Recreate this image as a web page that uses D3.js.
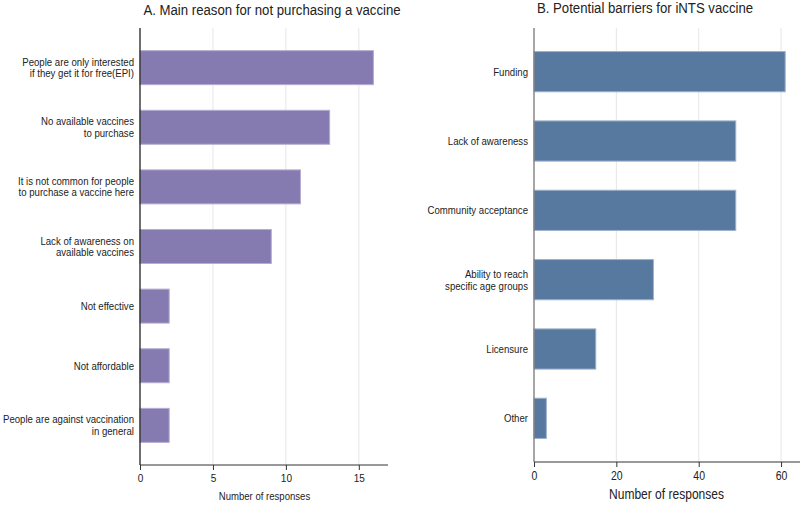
<!DOCTYPE html>
<html>
<head>
<meta charset="utf-8">
<script src="https://cdn.jsdelivr.net/npm/d3@7"></script>
<style>
  body { margin: 0; background: #fff; }
  svg { display: block; font-family: "Liberation Sans", Arial, sans-serif; }
</style>
</head>
<body>
<svg id="chart" width="800" height="505"></svg>
<script>
// Panel A data
const reasonsA = [
  ["People are only interested", "if they get it for free(EPI)"],
  ["No available vaccines", "to purchase"],
  ["It is not common for people", "to purchase a vaccine here"],
  ["Lack of awareness on", "available vaccines"],
  ["Not effective"],
  ["Not affordable"],
  ["People are against vaccination", "in general"]
];
const valuesA = [16, 13, 11, 9, 2, 2, 2];
const ticksA = [0, 5, 10, 15];

// Panel B data
const barriersB = [
  ["Funding"],
  ["Lack of awareness"],
  ["Community acceptance"],
  ["Ability to reach", "specific age groups"],
  ["Licensure"],
  ["Other"]
];
const valuesB = [61, 49, 49, 29, 15, 3];
const ticksB = [0, 20, 40, 60];

const svg = d3.select("#chart");
const SX = 0.875; // horizontal condensing to mimic a narrow typeface

function narrowText(parent, x, y, size, anchor, lines, lineH, sx) {
  const g = parent.append("g").attr("transform", `translate(${x},${y}) scale(${sx},1)`);
  const t = g.append("text").attr("text-anchor", anchor).attr("fill", "#222")
    .style("font-size", size + "px");
  lines.forEach((ln, j) => {
    t.append("tspan").attr("x", 0)
      .attr("y", (j - (lines.length - 1) / 2) * lineH)
      .attr("dy", "0.35em").text(ln);
  });
  return t;
}

function panel(cfg) {
  const g = svg.append("g");
  const x = d3.scaleLinear().domain(cfg.xDomain).range([cfg.x0, cfg.x1]);
  const idx = cfg.labels.map((d, i) => i);
  const y = d3.scaleBand().domain(idx).range([cfg.y0, cfg.y1])
    .paddingInner(cfg.pi).paddingOuter(cfg.po);

  // gridlines
  g.selectAll("line.grid").data(cfg.ticks.filter(t => t > 0)).enter().append("line")
    .attr("x1", d => x(d)).attr("x2", d => x(d))
    .attr("y1", cfg.y0).attr("y2", cfg.y1)
    .attr("stroke", "#e6e6e6").attr("stroke-width", 1);

  // bars
  g.selectAll("rect.bar").data(cfg.values).enter().append("rect")
    .attr("x", x(0))
    .attr("y", (d, i) => y(i))
    .attr("width", d => x(d) - x(0))
    .attr("height", y.bandwidth())
    .attr("fill", cfg.color)
    .attr("stroke", cfg.stroke).attr("stroke-width", 1);

  // x axis
  const xAxis = d3.axisBottom(x).tickValues(cfg.ticks).tickSize(5).tickPadding(4)
    .tickFormat(d3.format("d"));
  const ax = g.append("g").attr("transform", `translate(0,${cfg.y1})`).call(xAxis);
  ax.select(".domain").attr("stroke", "#333").attr("d", `M${cfg.x0},0H${cfg.x1}`);
  ax.selectAll(".tick line").attr("stroke", "#333");
  ax.selectAll(".tick text").attr("fill", "#222")
    .style("font-size", cfg.tickFont + "px").style("font-family", null)
    .attr("transform", `scale(${SX},1)`);

  // y axis line
  g.append("line").attr("x1", cfg.x0).attr("x2", cfg.x0)
    .attr("y1", cfg.y0).attr("y2", cfg.y1)
    .attr("stroke", cfg.yAxisColor).attr("stroke-width", 1.3);

  // category labels
  cfg.labels.forEach((lines, i) => {
    const cy = y(i) + y.bandwidth() / 2;
    narrowText(g, cfg.x0 - 6, cy, cfg.labelFont, "end", lines, cfg.lineH, SX);
  });

  // title
  narrowText(g, cfg.titleX, cfg.titleY, cfg.titleFont, "middle", [cfg.title], 0, 0.88);

  // axis title
  narrowText(g, cfg.axTitleX, cfg.axTitleY, cfg.axTitleFont, "middle", ["Number of responses"], 0, cfg.axTitleSX);
}

panel({
  labels: reasonsA, values: valuesA, ticks: ticksA,
  xDomain: [0, 17], x0: 140, x1: 388, y0: 28, y1: 465,
  pi: 0.43, po: 0.38,
  color: "#857bb0", stroke: "#b4acd2", yAxisColor: "#222",
  tickFont: 11.5, labelFont: 11, lineH: 11.5,
  title: "A. Main reason for not purchasing a vaccine", titleX: 272, titleY: 10, titleFont: 15,
  axTitleX: 264.5, axTitleY: 496, axTitleFont: 11, axTitleSX: 0.87
});

panel({
  labels: barriersB, values: valuesB, ticks: ticksB,
  xDomain: [0, 64.6], x0: 534, x1: 800, y0: 28, y1: 462,
  pi: 0.42, po: 0.34,
  color: "#5779a0", stroke: "#9db1cb", yAxisColor: "#777",
  tickFont: 12, labelFont: 11, lineH: 12,
  title: "B. Potential barriers for iNTS vaccine", titleX: 645, titleY: 8, titleFont: 15,
  axTitleX: 666.5, axTitleY: 494, axTitleFont: 14.5, axTitleSX: 0.83
});
</script>
</body>
</html>
